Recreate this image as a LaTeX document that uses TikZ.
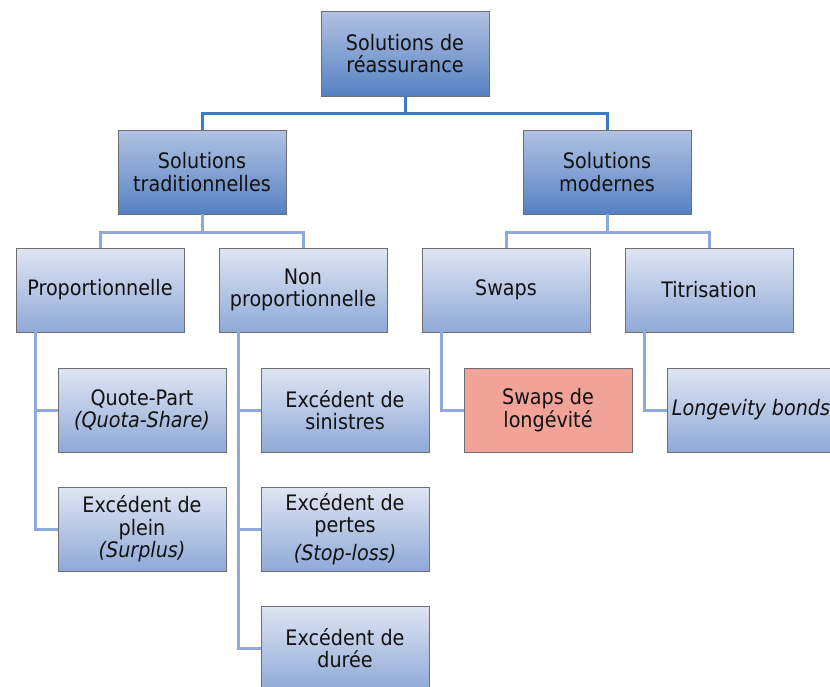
\documentclass[tikz,border=0pt]{standalone}
\usepackage{fontspec}
\setmainfont{DejaVuSansCondensed.ttf}[
  ItalicFont=DejaVuSansCondensed-Oblique.ttf,
  BoldFont=DejaVuSansCondensed-Bold.ttf]
\definecolor{boxline}{HTML}{6E6E72}
\definecolor{darktop}{HTML}{B2C2E2}
\definecolor{darkbot}{HTML}{5681C2}
\definecolor{lighttop}{HTML}{DFE5F2}
\definecolor{lightbot}{HTML}{8FA9D7}
\definecolor{salmon}{HTML}{F1A398}
\definecolor{linkdark}{HTML}{3A7CC6}
\definecolor{linklight}{HTML}{8DAADB}
\definecolor{txt}{HTML}{111111}
\tikzset{
  card/.style={draw=boxline, line width=0.9pt, rectangle,
    minimum width=168pt, minimum height=84pt, inner sep=2pt,
    align=center, text=txt, font=\fontsize{21.3}{22.5}\selectfont},
  headcard/.style={card, top color=darktop, bottom color=darkbot},
  subcard/.style={card, top color=lighttop, bottom color=lightbot},
  hotcard/.style={card, fill=salmon},
  maplink/.style={draw=linkdark, line width=3pt},
  sublink/.style={draw=linklight, line width=3pt}
}
\begin{document}
\begin{tikzpicture}[x=1pt, y=-1pt]
\useasboundingbox (0,0) rectangle (830,686);
\clip (0,0) rectangle (830,686);

% level 1 and 2
\node[headcard, minimum height=85pt] (root) at (405,53.5) {Solutions de\\réassurance};
\node[headcard] (trad) at (202,172) {Solutions\\traditionnelles};
\node[headcard] (mod) at (607,172) {Solutions\\modernes};

% level 3
\node[subcard] (prop) at (100,290) {Proportionnelle};
\node[subcard] (nonprop) at (303,290) {Non\\proportionnelle};
\node[subcard] (swaps) at (506,290) {Swaps};
\node[subcard] (titr) at (709,290) {Titrisation};

% leaves
\node[subcard] (qp) at (142,410) {Quote-Part\\\textit{(Quota-Share)}};
\node[subcard] (plein) at (142,529) {Excédent de\\plein\\\textit{(Surplus)}};
\node[subcard] (sin) at (345,410) {Excédent de\\sinistres};
\node[subcard] (pertes) at (345,529) {Excédent de\\pertes\\[5pt]\textit{(Stop-loss)}};
\node[subcard] (duree) at (345,648) {Excédent de\\durée};
\node[hotcard] (longe) at (548,410) {Swaps de\\longévité};
\node[subcard] (bonds) at (751,410) {\textit{Longevity bonds}};

% connectors between levels (elbow lines)
\path[maplink] (root.south) -- ++(0,17) -| (trad.north);
\path[maplink] (root.south) -- ++(0,17) -| (mod.north);

\path[sublink] (trad.south) -- ++(0,18) -| (prop.north);
\path[sublink] (trad.south) -- ++(0,18) -| (nonprop.north);
\path[sublink] (mod.south) -- ++(0,18) -| (swaps.north);
\path[sublink] (mod.south) -- ++(0,18) -| (titr.north);

% side rails down to the leaves
\path[sublink] ([xshift=-65pt]prop.south) |- (qp.west);
\path[sublink] ([xshift=-65pt]prop.south) |- (plein.west);
\path[sublink] ([xshift=-65pt]nonprop.south) |- (sin.west);
\path[sublink] ([xshift=-65pt]nonprop.south) |- (pertes.west);
\path[sublink] ([xshift=-65pt]nonprop.south) |- (duree.west);
\path[sublink] ([xshift=-65pt]swaps.south) |- (longe.west);
\path[sublink] ([xshift=-65pt]titr.south) |- (bonds.west);
\end{tikzpicture}
\end{document}
